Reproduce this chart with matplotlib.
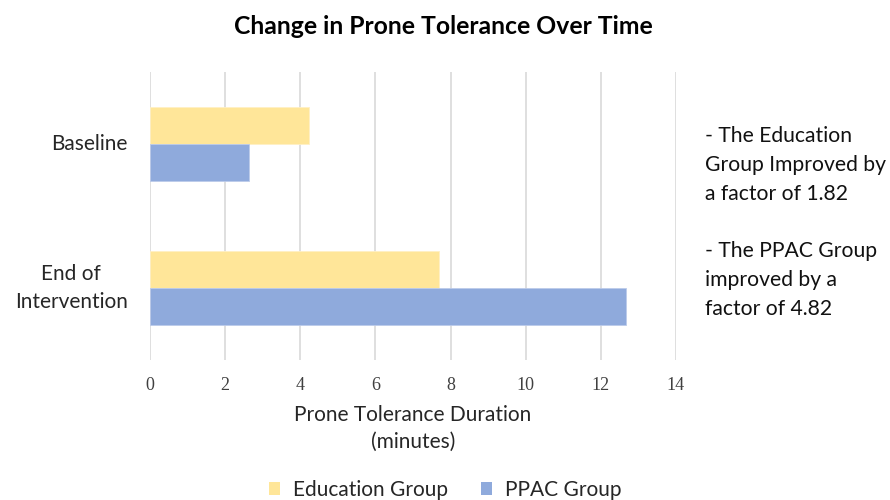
import matplotlib
matplotlib.use("Agg")
import matplotlib.pyplot as plt
import numpy as np
from matplotlib.patches import Patch

plt.rcParams['font.family'] = ['Lato', 'DejaVu Sans']

# Prone tolerance (minutes) per time point
categories = ["Baseline", "End of\nIntervention"]
education = [4.22, 7.68]
ppac = [2.63, 12.68]
series_names = ["Education Group", "PPAC Group"]
colors = ["#FFE699", "#8FAADC"]
x_ticks = [0, 2, 4, 6, 8, 10, 12, 14]

notes = ("- The Education\nGroup Improved by\na factor of 1.82\n\n"
         "- The PPAC Group\nimproved by a\nfactor of 4.82")

fig = plt.figure(figsize=(8.9, 5), dpi=100)
ax = fig.add_axes([0.1685, 0.28, 0.591, 0.576])

y = np.arange(len(categories))
h = 0.26
ax.barh(y - h / 2, education, height=h, color=colors[0], edgecolor="#FFF0C4", linewidth=0.6, zorder=3)
ax.barh(y + h / 2, ppac, height=h, color=colors[1], edgecolor="#BCCBEA", linewidth=0.6, zorder=3)

ax.set_ylim(1.5, -0.5)
ax.set_xlim(0, 14)
ax.set_xticks(x_ticks)
ax.set_xticklabels([str(t) for t in x_ticks], fontsize=13, color="#404040",
                   family=["Liberation Serif", "DejaVu Serif"])
ax.set_yticks(y)
ax.set_yticklabels(categories, fontsize=15, color="#262626", linespacing=1.45,
                   ha="right", va="center", multialignment="center")
ax.tick_params(axis="both", length=0)
ax.tick_params(axis="x", pad=12)
ax.tick_params(axis="y", pad=16)
ax.grid(axis="x", color="#D9D9D9", linewidth=1.2, zorder=0)
for s in ax.spines.values():
    s.set_visible(False)

ax.set_xlabel("Prone Tolerance Duration\n(minutes)", fontsize=15, color="#262626",
              labelpad=8, linespacing=1.45)

fig.text(0.498, 0.948, "Change in Prone Tolerance Over Time", ha="center", va="center",
         fontsize=17.8, fontweight="bold", color="#000000")

fig.text(0.792, 0.748, notes, ha="left", va="top", fontsize=15.2, color="#111111",
         linespacing=1.55)

handles = [Patch(facecolor=c, edgecolor="none") for c in colors]
fig.legend(handles, series_names, loc="center", bbox_to_anchor=(0.5, 0.02), ncol=2,
           frameon=False, fontsize=15, handlelength=0.55, handleheight=0.55,
           columnspacing=1.6, handletextpad=0.6, labelcolor="#262626")

fig.savefig("out.png", dpi=100)
